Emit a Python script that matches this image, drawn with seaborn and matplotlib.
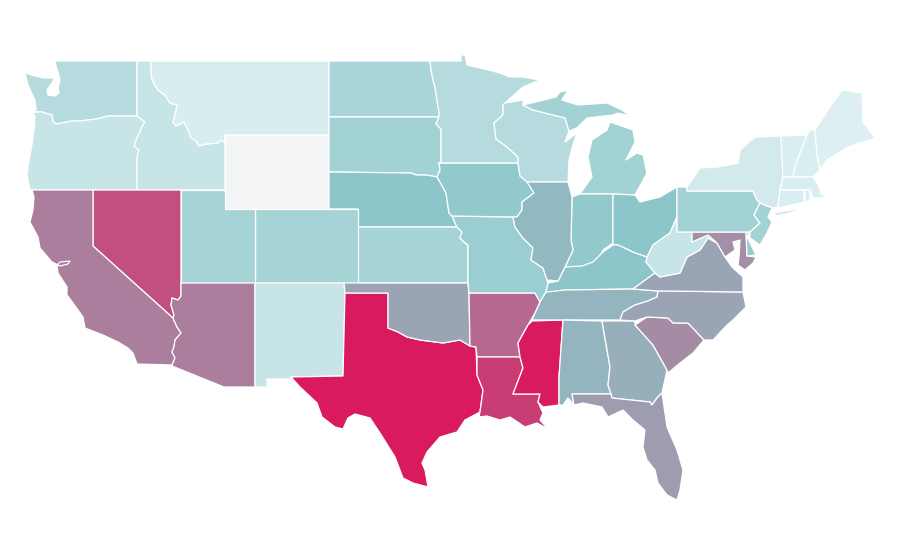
import matplotlib
matplotlib.use("Agg")
import matplotlib.pyplot as plt
import numpy as np
import seaborn as sns

WA = [(55,61),(137,61),(137,116),(108,116),(96,119),(80,121),(72,121),(66,122),(57,124),(53,122),(52,115),(42,112),(36,112),(33,113),(36,110),(35,100),(31,92),(28,85),(25,73),(35,76),(44,78),(54,78),(52,83),(47,90),(48,95),(55,96),(59,93),(58,88),(60,80),(58,72),(56,66)]
OR = [(33,113),(36,112),(42,112),(52,115),(53,122),(57,124),(66,122),(72,121),(80,121),(96,119),(108,116),(137,116),(145,122),(143,125),(137,138),(134,146),(139,150),(137,157),(137,190),(30,190),(27,175),(29,160),(32,145),(34,130),(35,117)]
ID = [(137,61),(151,61),(151,75),(153,82),(158,90),(165,95),(170,103),(177,105),(175,115),(173,122),(176,126),(184,122),(188,130),(191,138),(196,141),(199,146),(206,144),(218,143),(221,140),(225,143),(225,190),(137,190),(137,157),(139,150),(134,146),(137,138),(143,125),(145,122),(137,116)]
MT = [(151,61),(329,61),(329,135),(225,135),(225,143),(221,140),(218,143),(206,144),(199,146),(196,141),(191,138),(188,130),(184,122),(176,126),(173,122),(175,115),(177,105),(170,103),(165,95),(158,90),(153,82),(151,75)]
WY = [(225,135),(329,135),(329,209),(225,209)]
ND = [(329,61),(430,61),(431,70),(433,80),(435,87),(437,100),(439,113),(439,117),(329,117)]
SD = [(329,117),(439,117),(436,124),(441,129),(441,162),(439,163),(440,170),(437,177),(432,176),(425,175),(416,175),(411,173),(329,172)]
NE = [(329,172),(411,173),(416,175),(425,175),(432,176),(437,177),(440,182),(446,193),(449,213),(452,216),(457,227),(358,227),(358,209),(329,209)]
KS = [(358,227),(457,227),(462,232),(460,238),(465,243),(468,245),(468,283),(358,283)]
CO = [(255,209),(358,209),(358,283),(255,283)]
UT = [(181,190),(225,190),(225,209),(255,209),(255,283),(181,283)]
NV = [(93,190),(181,190),(181,296),(178,300),(172,298),(171,305),(174,315),(173,318),(93,246)]
CA = [(32,190),(93,190),(93,246),(173,318),(177,327),(181,333),(175,340),(174,347),(172,352),(175,358),(172,365),(137,364),(133,353),(128,348),(118,342),(103,335),(85,328),(83,317),(73,303),(67,295),(67,287),(58,273),(57,265),(60,262),(70,261),(68,264),(60,266),(52,262),(40,248),(38,237),(30,222),(33,210),(34,197)]
AZ = [(181,283),(255,283),(255,387),(224,387),(172,366),(172,365),(175,358),(172,352),(174,347),(175,340),(181,333),(177,327),(173,318),(174,315),(171,305),(172,298),(178,300),(181,296)]
NM = [(255,283),(344,283),(345,293),(343,376),(291,377),(291,379),(267,379),(267,387),(255,387)]
TX = [(345,293),(388,293),(388,328),(398,332),(407,337),(420,340),(443,343),(460,340),(470,346),(476,347),(477,375),(483,390),(480,412),(465,420),(457,432),(440,437),(427,452),(422,463),(425,470),(428,487),(413,483),(403,478),(395,457),(380,433),(370,418),(355,414),(348,418),(343,429),(335,427),(322,417),(317,403),(300,387),(291,377),(343,376)]
OK = [(344,283),(468,283),(469,293),(470,346),(460,340),(443,343),(420,340),(407,337),(398,332),(388,328),(388,293),(345,293)]
AR = [(469,293),(535,293),(540,302),(535,313),(528,325),(518,343),(520,357),(477,357),(476,347),(470,346)]
LA = [(477,357),(520,357),(523,368),(513,394),(540,394),(538,402),(543,413),(540,420),(548,429),(537,423),(525,427),(510,417),(500,420),(487,416),(479,417),(480,412),(483,390),(477,375)]
MS = [(532,321),(563,320),(559,377),(559,405),(543,407),(538,402),(540,394),(513,394),(523,368),(520,357),(518,343),(528,325)]
MO = [(452,216),(513,217),(515,227),(523,238),(533,248),(531,260),(543,268),(547,280),(548,283),(546,292),(540,302),(535,293),(469,293),(468,283),(468,245),(465,243),(460,238),(462,232),(457,227)]
IA = [(439,163),(518,163),(520,176),(528,182),(534,193),(522,202),(522,210),(517,217),(513,217),(452,216),(449,213),(446,193),(440,182),(437,177),(440,170)]
MN = [(430,61),(461,61),(461,55),(465,55),(467,65),(480,68),(500,73),(510,77),(523,77),(540,80),(523,87),(505,103),(503,105),(503,115),(494,123),(496,139),(507,147),(518,157),(518,163),(439,163),(441,162),(441,129),(436,124),(439,117),(439,113),(437,100),(435,87),(433,80),(431,70)]
WI = [(503,105),(505,103),(523,100),(523,105),(533,110),(565,118),(569,131),(565,142),(577,133),(572,148),(569,160),(568,182),(527,182),(520,176),(518,163),(518,157),(507,147),(496,139),(494,123),(503,115)]
MI_UPPER = [(523,105),(540,101),(556,97),(560,92),(568,90),(562,100),(565,101),(578,105),(607,103),(622,110),(630,116),(618,113),(613,115),(587,118),(577,128),(569,131),(565,118),(533,110)]
MI_LOWER = [(610,122),(633,130),(635,142),(626,160),(637,153),(643,155),(647,173),(635,195),(613,194),(580,194),(592,177),(588,157),(592,140),(607,130)]
IN = [(572,197),(580,194),(613,194),(613,243),(603,250),(597,262),(583,267),(565,267),(573,250),(571,240)]
OH = [(613,194),(635,195),(640,202),(660,197),(677,187),(677,217),(670,233),(653,245),(647,257),(635,253),(618,245),(613,245)]
KY = [(565,267),(582,266),(593,262),(603,252),(613,245),(618,245),(635,253),(647,257),(646,262),(655,273),(633,289),(565,290),(550,292),(546,292),(548,283),(558,281),(562,273)]
IL = [(527,182),(568,182),(572,197),(571,240),(573,250),(565,267),(562,273),(558,281),(547,280),(543,268),(531,260),(533,248),(523,238),(515,227),(513,217),(517,217),(522,210),(522,202),(534,193)]
TN = [(547,292),(565,290),(633,289),(658,291),(657,297),(648,301),(635,305),(623,312),(620,320),(532,320),(540,302),(546,292)]
AL = [(563,320),(602,321),(610,367),(608,385),(611,394),(572,394),(574,405),(568,398),(563,405),(559,405),(559,377)]
GA = [(602,321),(635,321),(635,325),(653,345),(667,370),(662,393),(657,398),(652,405),(650,402),(612,398),(611,394),(608,385),(610,367)]
FL = [(572,394),(611,394),(612,398),(650,402),(652,405),(657,398),(662,393),(667,427),(677,450),(683,470),(680,490),(677,500),(667,495),(658,483),(655,470),(647,460),(643,447),(645,430),(633,420),(623,410),(608,417),(602,407),(583,403),(574,405)]
SC = [(635,325),(647,317),(668,318),(673,323),(688,323),(704,340),(693,353),(680,363),(668,373),(667,370),(653,345)]
NC = [(667,291),(743,292),(746,307),(733,320),(727,325),(713,340),(704,340),(688,323),(673,323),(668,318),(647,317),(635,321),(620,320),(623,312),(635,305),(648,301),(657,297),(658,291)]
VA = [(633,289),(655,273),(660,277),(680,273),(687,257),(700,250),(708,238),(717,243),(725,257),(732,267),(743,277),(743,292),(667,291),(658,291)]
WV = [(677,217),(677,232),(692,232),(692,242),(708,235),(717,243),(708,238),(700,250),(687,257),(680,273),(660,277),(655,273),(646,262),(647,257),(653,245),(670,233)]
MD = [(692,232),(746,232),(747,256),(756,257),(753,263),(745,270),(738,265),(739,257),(740,240),(733,242),(735,250),(725,257),(717,243),(708,235),(692,242)]
DE = [(746,232),(749,233),(747,237),(756,255),(747,256)]
PA = [(677,187),(687,187),(687,191),(753,191),(757,200),(760,203),(754,215),(760,223),(750,232),(677,232)]
NJ = [(760,203),(772,208),(768,217),(772,222),(767,233),(760,245),(750,238),(750,232),(760,223),(754,215)]
NY = [(687,187),(700,168),(718,167),(738,163),(740,150),(755,137),(781,136),(783,177),(780,190),(778,207),(773,208),(760,203),(757,200),(753,191),(687,191)]
NY_LONG_ISLAND = [(773,213),(802,208),(790,213),(777,216)]
VT = [(781,136),(807,135),(802,148),(795,167),(793,177),(783,177)]
NH = [(810,130),(815,130),(817,155),(820,170),(813,177),(793,177),(795,167),(802,148),(807,135)]
ME = [(815,130),(828,110),(842,90),(862,93),(863,122),(875,138),(848,147),(827,160),(820,170),(817,155)]
MA = [(783,177),(813,177),(817,183),(822,195),(830,195),(822,198),(813,198),(810,190),(780,190)]
CT = [(780,190),(804,190),(804,202),(778,208)]
RI = [(805,190),(810,190),(810,200),(805,202)]

state_shapes = [WA,OR,ID,MT,WY,ND,SD,NE,KS,CO,UT,NV,CA,AZ,NM,TX,OK,AR,LA,MS,MO,IA,MN,WI,MI_UPPER,MI_LOWER,IN,OH,KY,IL,TN,AL,GA,FL,SC,NC,VA,WV,MD,DE,PA,NJ,NY,NY_LONG_ISLAND,VT,NH,ME,MA,CT,RI]
state_values = [25,15,15,5,np.nan,32,36,50,35,35,35,84,71,71,15,100,60,77,90,100,41,47,25,25,36,36,47,50,50,54,55,55,57,62,67,60,60,15,66,44,36,36,8,8,4,4,2,4,4,4]

sns.set_theme(style="white")
cmap = sns.blend_palette(["#e0f1f3", "#8cc6ca", "#d91a5f"], n_colors=256, as_cmap=True)
no_data_colour = "#f3f4f6"

fig = plt.figure(figsize=(9, 5.6), dpi=100)
ax = fig.add_axes([0, 0, 1, 1])
for shape, value in zip(state_shapes, state_values):
    xs, ys = zip(*shape)
    colour = no_data_colour if np.isnan(value) else cmap(value / 100)
    ax.fill(xs, ys, facecolor=colour, edgecolor="white", linewidth=0.9, joinstyle="round")
ax.set_xlim(0, 900)
ax.set_ylim(560, 0)
ax.set_axis_off()
fig.savefig("out.png", dpi=100, facecolor="white")
